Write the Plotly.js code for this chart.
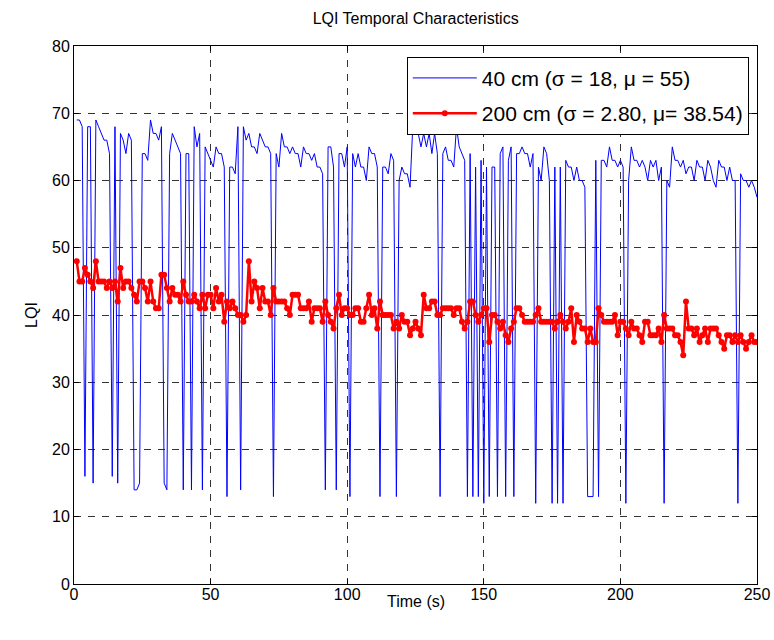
<!DOCTYPE html>
<html>
<head>
<meta charset="utf-8">
<script src="https://cdn.plot.ly/plotly-3.0.1.min.js"></script>
<style>html,body{margin:0;padding:0;background:#fff;}#chart{width:774px;height:640px;}</style>
</head>
<body>
<div id="chart"></div>
<script>
// Time (s)
var timeSec = [];
for (var i = 1; i <= 250; i++) timeSec.push(i);

// 40 cm series (LQI)
var lqi40 = [
69,69,68,16,68,68,15,69,68,67,
66,66,64,16,68,15,67,66,64,67,
66,14,14,15,64,64,63,69,67,67,
66,68,15,14,64,67,66,65,64,14,
64,64,14,68,65,67,14,65,64,63,
62,65,64,64,62,13,62,62,61,68,
14,68,66,67,65,65,64,67,66,65,
65,64,13,64,62,67,65,65,64,65,
64,64,62,65,64,64,63,64,62,62,
61,14,65,65,62,14,64,64,62,65,
13,64,62,64,62,62,60,65,64,64,
62,13,62,62,61,64,63,13,60,62,
61,61,59,68,67,67,65,67,65,67,
64,67,64,13,64,65,63,63,62,68,
65,64,63,13,64,13,62,13,63,12,
62,13,62,62,13,64,65,13,63,65,
13,64,64,65,64,64,62,64,12,62,
60,65,64,60,12,62,12,62,12,63,
62,62,60,62,60,60,59,13,13,13,
63,13,63,63,62,65,63,63,62,63,
62,12,60,65,63,63,62,63,62,60,
63,62,63,60,62,12,60,59,65,63,
63,62,63,61,62,62,60,63,62,62,
60,63,62,60,59,63,62,62,60,62,
60,60,12,61,60,60,59,60,59,57.5
];

// 200 cm series (LQI)
var lqi200 = [
48,45,45,47,46,45,44,48,45,45,
45,44,45,44,45,42,47,44,45,45,
44,43,42,45,45,44,42,45,42,41,
41,46,46,44,42,44,43,43,42,45,
43,42,42,43,42,41,43,41,43,43,
41,44,42,43,39,42,41,42,41,40,
40,39,40,48,42,45,44,41,44,42,
42,40,44,42,42,42,42,41,40,43,
43,43,41,41,41,42,39,41,41,41,
39,42,40,39,38,41,43,40,41,41,
40,40,41,41,39,39,41,43,40,41,
38,42,40,40,40,40,38,39,38,40,
39,39,37,38,39,38,37,43,41,41,
42,42,40,40,41,41,41,41,40,41,
41,39,38,39,42,42,40,39,40,41,
41,36,40,40,39,38,39,37,36,38,
39,41,41,40,39,39,39,39,40,41,
39,39,39,39,39,38,39,40,39,38,
39,41,36,40,39,38,38,36,38,36,
36,41,40,39,39,39,39,40,37,39,
39,38,37,39,38,38,37,36,39,39,
37,37,37,38,36,40,38,38,38,37,
37,36,34,42,38,38,37,38,36,37,
38,36,38,38,38,37,36,35,37,37,
36,37,36,37,36,35,36,37,36,36
];

var legend40 = "40 cm (\u03c3 = 18, \u03bc = 55)";
var legend200 = "200 cm (\u03c3 = 2.80, \u03bc= 38.54)";

var font = "Liberation Sans, Arial, Helvetica, sans-serif";

var traces = [
  {x: timeSec, y: lqi40, type: "scatter", mode: "lines", name: legend40, legendgroup: "a",
   line: {color: "#0000ff", width: 1}},
  {x: timeSec, y: lqi200, type: "scatter", mode: "lines+markers", name: legend200, legendgroup: "b",
   line: {color: "#ff0000", width: 2.5}, marker: {color: "#ff0000", size: 6}}
];

var axisCommon = {
  showline: true, linecolor: "#000", linewidth: 1, mirror: "ticks",
  ticks: "inside", ticklen: 5, tickcolor: "#000",
  showgrid: true, gridcolor: "rgba(0,0,0,0.8)", gridwidth: 1, griddash: "7px,7px",
  zeroline: false, tickfont: {family: font, size: 16, color: "#000"}
};

var layout = {
  width: 774, height: 640,
  margin: {l: 74, r: 17, t: 46, b: 56},
  paper_bgcolor: "#fff", plot_bgcolor: "#fff",
  font: {family: font, color: "#000"},
  title: {text: "LQI Temporal Characteristics", font: {family: font, size: 16, color: "#000"},
          x: 0.537, xanchor: "center", y: 0.972, yanchor: "middle"},
  xaxis: Object.assign({}, axisCommon, {range: [0, 250], dtick: 50, tick0: 0, ticklabelstandoff: -4}),
  yaxis: Object.assign({}, axisCommon, {range: [0, 80], dtick: 10, tick0: 0,
          title: {text: "LQI", font: {family: font, size: 16}, standoff: 10}}),
  annotations: [
    {text: "Time (s)", xref: "paper", yref: "paper", x: 0.5, y: -0.033, xanchor: "center", yanchor: "middle",
     showarrow: false, font: {family: font, size: 16, color: "#000"}}
  ],
  showlegend: true,
  legend: {x: 0.988, xanchor: "right", y: 0.98, yanchor: "top",
           bgcolor: "#fff", bordercolor: "#000", borderwidth: 1,
           font: {family: font, size: 21, color: "#000"}, itemwidth: 64,
           traceorder: "grouped", tracegroupgap: 5}
};

Plotly.newPlot("chart", traces, layout, {displayModeBar: false, staticPlot: true});
</script>
</body>
</html>
